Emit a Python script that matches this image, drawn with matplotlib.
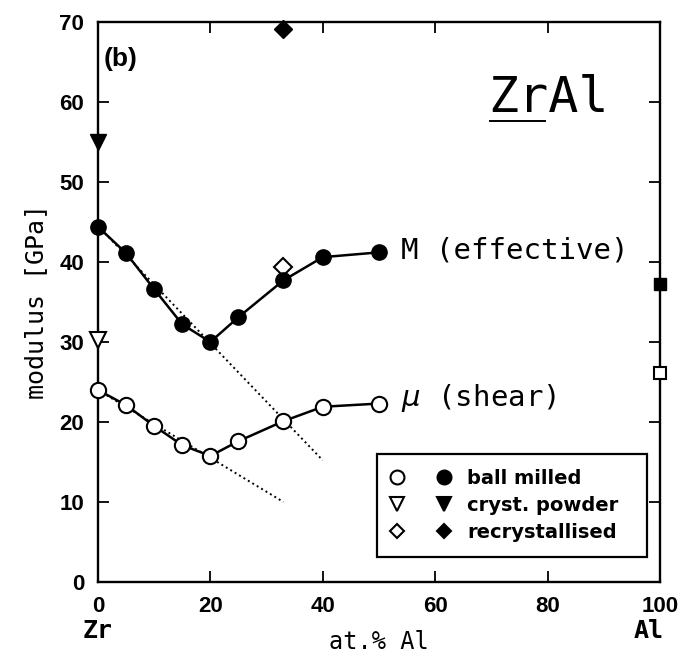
import matplotlib
matplotlib.use('Agg')
import matplotlib.pyplot as plt
from matplotlib.legend_handler import HandlerTuple
from matplotlib.lines import Line2D

# ---- data ----
x_bm = [0, 5, 10, 15, 20, 25, 33, 40, 50]
M_bm = [44.4, 41.1, 36.6, 32.2, 30.0, 33.1, 37.7, 40.6, 41.2]
mu_bm = [24.0, 22.1, 19.5, 17.1, 15.75, 17.6, 20.1, 21.9, 22.3]

trend_M_x = [0, 40]
trend_M_y = [44.5, 15.2]
trend_mu_x = [0, 33]
trend_mu_y = [24.0, 10.0]

cryst_x = [0]
cryst_filled = [55.0]
cryst_open = [30.3]

recr_x = [33]
recr_filled = [69.1]
recr_open = [39.4]

al_x = [100]
al_filled = [37.2]
al_open = [26.1]

xticks = [0, 20, 40, 60, 80, 100]
yticks = [0, 10, 20, 30, 40, 50, 60, 70]
legend_labels = ['ball milled', 'cryst. powder', 'recrystallised']

# ---- figure ----
fig = plt.figure(figsize=(6.85, 6.55), dpi=100)
ax = fig.add_axes([0.143, 0.1115, 0.8205, 0.855])
ax.set_xlim(0, 100)
ax.set_ylim(0, 70)

mono = 'DejaVu Sans Mono'
sans = 'Liberation Sans'
lw = 1.8
ms = 11

ax.plot(trend_M_x, trend_M_y, color='black', ls=':', lw=1.4, zorder=1)
ax.plot(trend_mu_x, trend_mu_y, color='black', ls=':', lw=1.4, zorder=1)

ax.plot(x_bm, M_bm, color='black', lw=lw, marker='o', ms=ms,
        mfc='black', mec='black', zorder=3, clip_on=False)
ax.plot(x_bm, mu_bm, color='black', lw=lw, marker='o', ms=ms,
        mfc='white', mec='black', mew=1.5, zorder=3, clip_on=False)

ax.plot(cryst_x, cryst_filled, ls='none', marker='v', ms=11, mfc='black',
        mec='black', clip_on=False, zorder=4)
ax.plot(cryst_x, cryst_open, ls='none', marker='v', ms=11, mfc='white',
        mec='black', mew=1.5, clip_on=False, zorder=4)
ax.plot(recr_x, recr_filled, ls='none', marker='D', ms=9, mfc='black',
        mec='black', clip_on=False, zorder=4)
ax.plot(recr_x, recr_open, ls='none', marker='D', ms=9, mfc='white',
        mec='black', mew=1.5, clip_on=False, zorder=2)
ax.plot(al_x, al_filled, ls='none', marker='s', ms=9, mfc='black',
        mec='black', clip_on=False, zorder=4)
ax.plot(al_x, al_open, ls='none', marker='s', ms=9, mfc='white',
        mec='black', mew=1.5, clip_on=False, zorder=4)

# ticks
ax.set_xticks(xticks)
ax.set_yticks(yticks)
ax.set_xticklabels([str(t) for t in xticks])
ax.set_yticklabels([str(t) for t in yticks])
ax.tick_params(direction='in', length=8, width=1.3, top=True, right=True,
               pad=10, labelsize=16)
for lab in ax.get_xticklabels() + ax.get_yticklabels():
    lab.set_fontfamily(sans)
    lab.set_fontweight('bold')
for s in ax.spines.values():
    s.set_linewidth(1.7)

ax.set_ylabel('modulus [GPa]', family=mono, fontsize=18, labelpad=8)
ax.text(0.5, -0.108, 'at.% Al', transform=ax.transAxes, family=mono,
        fontsize=17, ha='center', va='center')
ax.text(0.0, -0.088, 'Zr', transform=ax.transAxes, family=mono, fontsize=18,
        ha='center', va='center', fontweight='bold')
ax.text(0.98, -0.088, 'Al', transform=ax.transAxes, family=mono, fontsize=18,
        ha='center', va='center', fontweight='bold')

ax.text(1.0, 65.4, '(b)', family=sans, fontsize=19, fontweight='bold',
        ha='left', va='center')
t = ax.text(69.5, 58.8, 'ZrAl', family=mono, fontsize=36, ha='left',
            va='baseline')
ax.text(54, 41.4, 'M (effective)', family=mono, fontsize=21, ha='left',
        va='center')
ax.text(54, 23.0, r'$\mu$ (shear)', family=mono, fontsize=21, ha='left',
        va='center')

# underline "Zr"
fig.canvas.draw()
bb = t.get_window_extent().transformed(ax.transData.inverted())
ax.plot([bb.x0 + 0.3, bb.x0 + (bb.x1 - bb.x0) / 2 - 0.6], [57.6, 57.6],
        color='black', lw=1.4)

# legend
def mk(marker, fill, size):
    return Line2D([], [], ls='none', marker=marker, ms=size, mfc=fill,
                  mec='black', mew=1.5)

handles = [(mk('o', 'white', 10), mk('o', 'black', 10)),
           (mk('v', 'white', 10), mk('v', 'black', 10)),
           (mk('D', 'white', 7.5), mk('D', 'black', 7.5))]
leg = ax.legend(handles, legend_labels,
                handler_map={tuple: HandlerTuple(ndivide=None, pad=1.8)},
                loc='lower left', bbox_to_anchor=(0.496, 0.045, 0.48, 0.19),
                mode='expand', fancybox=False, framealpha=1,
                edgecolor='black', handlelength=3.0, handletextpad=0.9,
                borderaxespad=0, borderpad=0.75, labelspacing=0.42,
                prop={'family': 'DejaVu Sans', 'weight': 'bold', 'size': 14})
leg.get_frame().set_linewidth(1.6)

fig.savefig('out.png', dpi=100)
